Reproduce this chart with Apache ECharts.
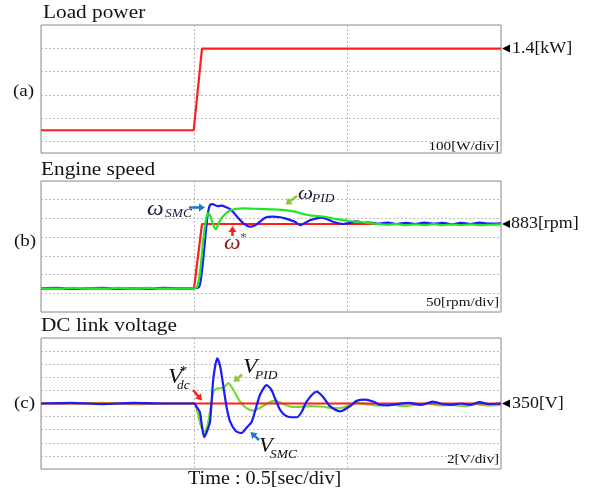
<!DOCTYPE html>
<html>
<head>
<meta charset="utf-8">
<script src="https://cdn.jsdelivr.net/npm/echarts@6/dist/echarts.min.js"></script>
<style>html,body{margin:0;padding:0;background:#fff;}#c{width:592px;height:493px;}</style>
</head>
<body>
<div id="c"></div>
<script>
// ---------- data ----------
const timeTicks = [0, 0.5, 1.0, 1.5]; // 0.5 s/div

// (a) Load power [kW]
const timeLoad = [0, 0.498, 0.525, 1.5];
const loadPower = [1.05, 1.05, 1.4, 1.4];

// (b) Engine speed [rpm]
const timeSpeedRef = [0, 0.499, 0.525, 1.5];
const speedRef = [711, 711, 883, 883];

const timeSpeedSMC = [0, 0.05, 0.1, 0.15, 0.2, 0.25, 0.3, 0.35, 0.4, 0.45, 0.49, 0.515, 0.525, 0.535, 0.543, 0.551, 0.56, 0.575, 0.59, 0.60, 0.62, 0.64, 0.66, 0.682, 0.70, 0.731, 0.757, 0.78, 0.796, 0.828, 0.845, 0.877, 0.916, 0.952, 0.985, 1.00, 1.031, 1.05, 1.073, 1.10, 1.13, 1.16, 1.19, 1.22, 1.25, 1.28, 1.31, 1.34, 1.37, 1.40, 1.43, 1.46, 1.5];
const speedSMC = [711, 712, 710, 711, 712, 710, 711, 710, 712, 711, 711, 714, 760, 840, 905, 934, 936, 931, 932, 929, 921, 902, 885, 876, 880, 900, 903, 901, 898, 889, 880, 893, 900, 889, 883, 885, 890, 886, 887, 884, 887, 883, 886, 883, 887, 884, 886, 882, 886, 883, 887, 884, 885];

const timeSpeedPID = [0, 0.05, 0.1, 0.15, 0.2, 0.25, 0.3, 0.35, 0.4, 0.45, 0.49, 0.508, 0.518, 0.528, 0.538, 0.545, 0.552, 0.562, 0.570, 0.58, 0.589, 0.61, 0.633, 0.66, 0.69, 0.73, 0.76, 0.796, 0.828, 0.845, 0.877, 0.92, 0.964, 1.008, 1.05, 1.09, 1.13, 1.16, 1.19, 1.22, 1.25, 1.28, 1.31, 1.34, 1.37, 1.40, 1.43, 1.46, 1.5];
const speedPID = [711, 710, 712, 711, 710, 712, 711, 712, 710, 711, 711, 714, 750, 830, 895, 912, 905, 880, 869, 885, 899, 916, 923, 925, 924, 923, 922, 920, 916, 912, 906, 903, 896, 891, 887, 884, 881, 883, 880, 882, 880, 883, 880, 882, 880, 882, 880, 881, 882];

// (c) DC link voltage [V]
const timeVdcRef = [0, 1.5];
const vdcRef = [350, 350];

const timeVdcSMC = [0, 0.1, 0.2, 0.3, 0.4, 0.499, 0.510, 0.518, 0.525, 0.532, 0.540, 0.551, 0.562, 0.575, 0.585, 0.594, 0.605, 0.616, 0.635, 0.654, 0.670, 0.687, 0.714, 0.736, 0.750, 0.763, 0.780, 0.796, 0.815, 0.834, 0.850, 0.866, 0.899, 0.920, 0.942, 0.975, 1.008, 1.029, 1.057, 1.083, 1.105, 1.13, 1.16, 1.20, 1.24, 1.278, 1.31, 1.34, 1.37, 1.40, 1.43, 1.46, 1.5];
const vdcSMC = [350, 350.1, 349.9, 350.1, 350, 350, 349.3, 348.7, 346.5, 344.9, 345.6, 347.2, 353.8, 356.9, 355.5, 352.8, 349.5, 347.3, 345.8, 345.5, 346.3, 347.2, 351.3, 352.8, 352.2, 350.8, 349, 348.2, 347.9, 347.9, 348.7, 350.3, 351.8, 351, 349.6, 348.8, 349.6, 350.4, 350.6, 350.3, 349.8, 349.7, 349.9, 350.1, 349.8, 350.3, 349.9, 349.8, 350, 349.8, 350.2, 349.9, 350];

const timeVdcPID = [0, 0.1, 0.2, 0.3, 0.4, 0.499, 0.510, 0.520, 0.532, 0.542, 0.551, 0.562, 0.575, 0.594, 0.611, 0.627, 0.649, 0.670, 0.692, 0.720, 0.745, 0.763, 0.796, 0.818, 0.845, 0.88, 0.92, 0.952, 0.975, 1.008, 1.029, 1.06, 1.10, 1.14, 1.18, 1.22, 1.26, 1.30, 1.34, 1.38, 1.42, 1.46, 1.5];
const vdcPID = [350, 350, 350.1, 349.9, 350, 350, 348.8, 346.8, 345.6, 346.5, 348.75, 351.8, 352.3, 352.4, 353.1, 352.1, 350.3, 349.3, 348.9, 349.5, 350.2, 350.4, 349.8, 349.5, 349.5, 349.6, 349.5, 349.3, 349.3, 349.8, 350.1, 349.9, 349.7, 349.9, 349.6, 349.8, 350, 349.7, 349.8, 349.6, 349.9, 349.7, 349.8];

// ---------- chart ----------
const zip = (t, v) => t.map((x, i) => [x, v[i]]);
const RED = '#ff1e1e', BLUE = '#1a1aff', GREEN_B = '#22e622', GREEN_C = '#74dc2c';
const ARROW_BLUE = '#1f78c8', ARROW_GREEN = '#8cc63f';
const FONT = '"Liberation Serif", "Times New Roman", serif';
const SX = 1.12;

const gridLine = { show: true, lineStyle: { color: '#bdbdbd', type: [2, 2], width: 1 } };
const grids = [
  { left: 41, top: 25, width: 460, height: 128 },
  { left: 41, top: 181, width: 460, height: 131 },
  { left: 41, top: 338, width: 460, height: 131 }
].map(g => Object.assign(g, { show: true, borderColor: '#8a8a8a', borderWidth: 1, backgroundColor: '#fff' }));

const xAxes = [0, 1, 2].map(i => ({
  type: 'value', gridIndex: i, min: timeTicks[0], max: timeTicks[timeTicks.length - 1], interval: 0.5,
  axisLine: { show: false }, axisTick: { show: false }, axisLabel: { show: false }, splitLine: gridLine
}));

const hiddenY = (gi, min, max) => ({
  type: 'value', gridIndex: gi, min, max, show: true,
  axisLine: { show: false }, axisTick: { show: false }, axisLabel: { show: false }, splitLine: { show: false }
});
const divY = (gi, max) => ({
  type: 'value', gridIndex: gi, min: 0, max, interval: 1, inverse: true,
  axisLine: { show: false }, axisTick: { show: false }, axisLabel: { show: false }, splitLine: gridLine
});
const yAxes = [
  hiddenY(0, 0.9524, 1.5017),
  divY(0, 128 / 23.3),
  hiddenY(1, 647.7, 998),
  divY(1, 131 / 18.7),
  { type: 'value', gridIndex: 2, min: 340, max: 360, interval: 2,
    axisLine: { show: false }, axisTick: { show: false }, axisLabel: { show: false }, splitLine: gridLine }
];

const line = (name, xi, yi, data, color, z, smooth) => ({
  name, type: 'line', xAxisIndex: xi, yAxisIndex: yi, data, symbol: 'none',
  smooth: smooth ? 0.25 : false, z, lineStyle: { color, width: 2.2 }, animation: false
});

const series = [
  line('Load power', 0, 0, zip(timeLoad, loadPower), RED, 3, false),
  line('ω*', 1, 2, zip(timeSpeedRef, speedRef), RED, 2, false),
  line('ωSMC', 1, 2, zip(timeSpeedSMC, speedSMC), BLUE, 3, true),
  line('ωPID', 1, 2, zip(timeSpeedPID, speedPID), GREEN_B, 4, true),
  line('VPID', 2, 4, zip(timeVdcPID, vdcPID), GREEN_C, 2, true),
  line('Vdc*', 2, 4, zip(timeVdcRef, vdcRef), RED, 3, false),
  line('VSMC', 2, 4, zip(timeVdcSMC, vdcSMC), BLUE, 4, true)
];

function txt(str, x, y, size, o) {
  o = o || {};
  const font = (o.italic ? 'italic ' : '') + size + 'px ' + FONT;
  const align = o.align || 'left';
  return { type: 'text', x, y, scaleX: SX, z: 100,
    style: { text: str, font, fill: o.color || '#111',
      textAlign: align, align: align, textVerticalAlign: 'middle', verticalAlign: 'middle' } };
}
function arrow(x1, y1, x2, y2, color) {
  const dx = x2 - x1, dy = y2 - y1, L = Math.hypot(dx, dy), ux = dx / L, uy = dy / L;
  const hl = 6, hw = 4;
  const bx = x2 - ux * hl, by = y2 - uy * hl, px = -uy, py = ux;
  return [
    { type: 'line', z: 100, shape: { x1, y1, x2: bx + ux, y2: by + uy }, style: { stroke: color, lineWidth: 2.5 } },
    { type: 'polygon', z: 100, shape: { points: [[x2, y2], [bx + px * hw, by + py * hw], [bx - px * hw, by - py * hw]] }, style: { fill: color } }
  ];
}
function marker(y) {
  return { type: 'polygon', z: 100, shape: { points: [[502, y], [510, y - 4], [510, y + 4]] }, style: { fill: '#000' } };
}

const graphic = [
  txt('Load power', 43, 13, 19),
  txt('Engine speed', 41, 170, 19),
  txt('DC link voltage', 41, 326, 19),
  txt('Time : 0.5[sec/div]', 188, 479, 18),
  txt('(a)', 13, 92, 17),
  txt('(b)', 14, 242, 17),
  txt('(c)', 14, 404, 17),
  marker(48.5), txt('1.4[kW]', 512, 48.5, 16),
  marker(224), txt('883[rpm]', 511, 224, 16),
  marker(403.5), txt('350[V]', 512, 403.5, 16),
  txt('100[W/div]', 499, 146.5, 13.5, { align: 'right' }),
  txt('50[rpm/div]', 499, 302, 13.5, { align: 'right' }),
  txt('2[V/div]', 499, 459, 13.5, { align: 'right' }),
  // annotations panel (b)
  txt('ω', 147, 209, 21, { italic: true, color: '#1a1a3a' }),
  txt('SMC', 165, 214, 12, { italic: true, color: '#1a1a3a' }),
  ...arrow(189, 207.5, 205, 207.5, ARROW_BLUE),
  ...arrow(232.5, 236, 232.5, 226, RED),
  txt('ω', 224, 243, 21, { italic: true, color: '#8b1a1a' }),
  txt('*', 240, 238, 12, { color: '#555' }),
  txt('ω', 298, 194, 19, { italic: true, color: '#1a1a3a' }),
  txt('PID', 312, 199, 12, { italic: true, color: '#1a1a3a' }),
  ...arrow(297, 196, 285.5, 204.5, ARROW_GREEN),
  // annotations panel (c)
  txt('V', 168, 377.5, 21, { italic: true, color: '#111' }),
  txt('*', 180, 371, 13, { color: '#111' }),
  txt('dc', 177, 386, 12, { italic: true, color: '#111' }),
  ...arrow(193, 390, 202, 400.5, RED),
  txt('V', 243, 367, 21, { italic: true, color: '#111' }),
  txt('PID', 255, 375.5, 12, { italic: true, color: '#111' }),
  ...arrow(242, 374.5, 233.5, 382, ARROW_GREEN),
  txt('V', 259, 447, 20, { italic: true, color: '#111' }),
  txt('SMC', 270, 455, 12, { italic: true, color: '#111' }),
  ...arrow(259, 440, 250.5, 432, ARROW_BLUE)
];

const chart = echarts.init(document.getElementById('c'), null, { renderer: 'canvas' });
chart.setOption({
  animation: false,
  backgroundColor: '#fff',
  grid: grids,
  xAxis: xAxes,
  yAxis: yAxes,
  series,
  graphic
});
</script>
</body>
</html>
